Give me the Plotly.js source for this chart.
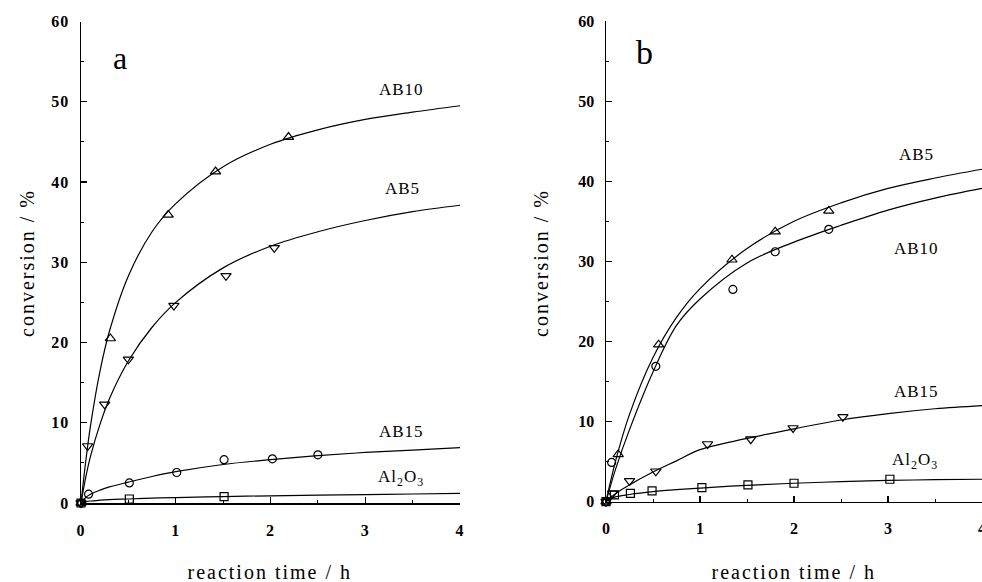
<!DOCTYPE html>
<html>
<head>
<meta charset="utf-8">
<script src="https://cdn.plot.ly/plotly-3.0.1.min.js"></script>
<style>
html,body{margin:0;padding:0;background:#fff;}
#chart{width:982px;height:582px;}
.annotation-text{letter-spacing:1px;}
g.annotation[data-index="10"] text, g.annotation[data-index="11"] text,
g.annotation[data-index="12"] text, g.annotation[data-index="13"] text{letter-spacing:2px;}
.xtick text,.ytick text{letter-spacing:1px;font-weight:bold;}
</style>
</head>
<body>
<div id="chart"></div>
<script>
// ---------- Panel a : measured points ----------
const a_AB10_x = [0, 0.31, 0.92, 1.42, 2.19];
const a_AB10_y = [0, 20.5, 35.9, 41.3, 45.6];
const a_AB5_x  = [0, 0.07, 0.25, 0.50, 0.98, 1.53, 2.04];
const a_AB5_y  = [0, 7.1, 12.3, 17.9, 24.6, 28.3, 31.8];
const a_AB15_x = [0, 0.08, 0.51, 1.01, 1.51, 2.02, 2.50];
const a_AB15_y = [0, 1.1, 2.5, 3.8, 5.4, 5.5, 6.0];
const a_Al_x   = [0, 0.51, 1.51];
const a_Al_y   = [0, 0.5, 0.8];
// ---------- Panel a : fitted curves ----------
const a_fit_x     = [0, 0.05, 0.1, 0.2, 0.3, 0.5, 0.75, 1, 1.5, 2, 2.5, 3, 3.5, 4];
const a_AB10_fit  = [0, 5.2, 9.6, 16.4, 21.4, 28.3, 33.8, 37.3, 41.9, 44.7, 46.5, 47.8, 48.7, 49.5];
const a_AB5_fit   = [0, 3.2, 5.8, 9.8, 13.0, 17.7, 21.9, 25.0, 29.3, 32.0, 33.8, 35.2, 36.3, 37.1];
const a_AB15_fit  = [0, 0.7, 1.1, 1.6, 2.0, 2.6, 3.3, 3.9, 4.8, 5.4, 5.9, 6.3, 6.6, 6.9];
const a_Al_fit    = [0, 0.15, 0.25, 0.35, 0.42, 0.5, 0.6, 0.68, 0.8, 0.9, 0.98, 1.05, 1.12, 1.2];

// ---------- Panel b : measured points ----------
const b_AB5_x  = [0, 0.13, 0.56, 1.34, 1.80, 2.37];
const b_AB5_y  = [0, 5.9, 19.6, 30.2, 33.7, 36.3];
const b_AB10_x = [0, 0.06, 0.53, 1.35, 1.80, 2.37];
const b_AB10_y = [0, 4.9, 16.9, 26.5, 31.2, 34.0];
const b_AB15_x = [0, 0.07, 0.25, 0.53, 1.08, 1.54, 1.99, 2.52];
const b_AB15_y = [0, 1.05, 2.6, 3.8, 7.2, 7.8, 9.2, 10.6];
const b_Al_x   = [0, 0.09, 0.26, 0.49, 1.02, 1.51, 2.00, 3.02];
const b_Al_y   = [0, 0.85, 1.05, 1.35, 1.75, 2.1, 2.3, 2.8];
// ---------- Panel b : fitted curves ----------
const b_fit_x     = [0, 0.1, 0.25, 0.5, 0.75, 1, 1.5, 2, 2.5, 3, 3.5, 4];
const b_AB5_fit   = [0, 5.0, 10.9, 18.0, 23.0, 26.6, 31.6, 35.0, 37.3, 39.1, 40.4, 41.5];
const b_AB10_fit  = [0, 4.0, 9.0, 16.2, 22.0, 25.3, 29.8, 32.4, 34.5, 36.4, 37.9, 39.1];
const b_AB15_fit  = [0, 1.0, 2.1, 3.7, 5.1, 6.5, 7.9, 9.1, 10.2, 11.0, 11.6, 12.0];
const b_Al_fit    = [0, 0.6, 0.9, 1.25, 1.5, 1.7, 2.05, 2.3, 2.5, 2.65, 2.75, 2.8];

const tickLabels = ['0','1','2','3','4'];
const yTickLabels = ['0','10','20','30','40','50','60'];

function curve(x, y, xa, ya) {
  return {x: x, y: y, xaxis: xa, yaxis: ya, mode: 'lines', type: 'scatter',
    line: {color: '#000', width: 1.2, shape: 'spline', smoothing: 1}, hoverinfo: 'skip', cliponaxis: false};
}
function pts(x, y, sym, xa, ya, size) {
  return {x: x, y: y, xaxis: xa, yaxis: ya, mode: 'markers', type: 'scatter',
    marker: {symbol: sym, size: size || 8, color: '#000', line: {color: '#000', width: 1.2}},
    cliponaxis: false, hoverinfo: 'skip'};
}

const data = [
  curve(a_fit_x, a_AB10_fit, 'x', 'y'),
  curve(a_fit_x, a_AB5_fit, 'x', 'y'),
  curve(a_fit_x, a_AB15_fit, 'x', 'y'),
  curve(a_fit_x, a_Al_fit, 'x', 'y'),
  pts(a_AB10_x, a_AB10_y, 'triangle-up-open', 'x', 'y', 9),
  pts(a_AB5_x, a_AB5_y, 'triangle-down-open', 'x', 'y', 9),
  pts(a_AB15_x, a_AB15_y, 'circle-open', 'x', 'y', 8),
  pts(a_Al_x, a_Al_y, 'square-open', 'x', 'y', 8),
  curve(b_fit_x, b_AB5_fit, 'x2', 'y2'),
  curve(b_fit_x, b_AB10_fit, 'x2', 'y2'),
  curve(b_fit_x, b_AB15_fit, 'x2', 'y2'),
  curve(b_fit_x, b_Al_fit, 'x2', 'y2'),
  pts(b_AB5_x, b_AB5_y, 'triangle-up-open', 'x2', 'y2', 9),
  pts(b_AB10_x, b_AB10_y, 'circle-open', 'x2', 'y2', 8),
  pts(b_AB15_x, b_AB15_y, 'triangle-down-open', 'x2', 'y2', 9),
  pts(b_Al_x, b_Al_y, 'square-open', 'x2', 'y2', 8)
];

const W = 982, H = 582;
const px = v => v / W, py = v => 1 - v / H;
const serif = 'Liberation Serif, Times New Roman, serif';
const tickFont = {family: serif, size: 16, color: '#000', weight: 'bold'};

function xax(dom, anchor) {
  return {domain: dom, anchor: anchor, range: [0, 4], showgrid: false, zeroline: false,
    showline: true, linecolor: '#000', linewidth: 1.5, ticks: 'inside', ticklen: 6, tickwidth: 1.2,
    tickcolor: '#000', tickvals: [0,1,2,3,4], ticktext: tickLabels, tickfont: tickFont,
    ticklabelstandoff: 12, ticklabeloverflow: 'allow', fixedrange: true,
    minor: {tickvals: [0.5,1.5,2.5,3.5], ticks: 'inside', ticklen: 3, tickwidth: 1, tickcolor: '#000'}};
}
function yax(dom, anchor) {
  return {domain: dom, anchor: anchor, range: [0, 60], showgrid: false, zeroline: false,
    showline: true, linecolor: '#000', linewidth: 1.5, ticks: 'inside', ticklen: 6, tickwidth: 1.2,
    tickcolor: '#000', tickvals: [0,10,20,30,40,50,60], ticktext: yTickLabels, tickfont: tickFont,
    ticklabelstandoff: 7, ticklabeloverflow: 'allow', fixedrange: true,
    minor: {tickvals: [5,15,25,35,45,55], ticks: 'inside', ticklen: 3, tickwidth: 1, tickcolor: '#000'}};
}

function label(text, x, y, size) {
  return {text: text, x: px(x), y: py(y), xref: 'paper', yref: 'paper', showarrow: false,
    xanchor: 'center', yanchor: 'middle', font: {family: serif, size: size || 17, color: '#000'}};
}
function vlabel(text, x, y) {
  return {text: text, x: px(x), y: py(y), xref: 'paper', yref: 'paper', showarrow: false,
    xanchor: 'center', yanchor: 'middle', textangle: -90, font: {family: serif, size: 20, color: '#000'}};
}

const layout = {
  width: W, height: H, margin: {l: 0, r: 0, t: 0, b: 0},
  paper_bgcolor: '#fff', plot_bgcolor: '#fff', showlegend: false,
  xaxis: xax([px(81), px(460)], 'y'),
  yaxis: yax([py(503), py(21.5)], 'x'),
  xaxis2: xax([px(606), 1], 'y2'),
  yaxis2: yax([py(501.7), py(21)], 'x2'),
  annotations: [
    label('a', 120, 58, 32),
    label('b', 645, 52, 34),
    label('AB10', 401, 89),
    label('AB5', 402, 188.5),
    label('AB15', 401, 431),
    label('Al<sub>2</sub>O<sub>3</sub>', 401, 478),
    label('AB5', 916, 154.5),
    label('AB10', 916, 248),
    label('AB15', 916, 391.5),
    label('Al<sub>2</sub>O<sub>3</sub>', 915, 461),
    vlabel('conversion / %', 27, 263),
    vlabel('conversion / %', 541, 263),
    label('reaction time / h', 270, 572, 20),
    label('reaction time / h', 794, 572, 20)
  ]
};

Plotly.newPlot('chart', data, layout, {staticPlot: true, displayModeBar: false});
</script>
</body>
</html>
